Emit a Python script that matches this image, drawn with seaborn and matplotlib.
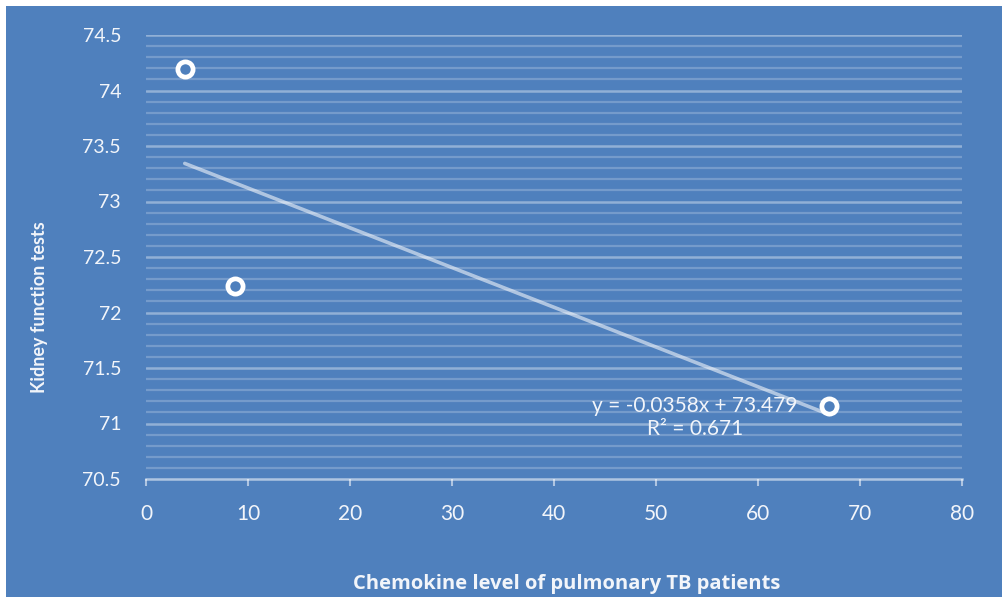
import matplotlib
matplotlib.use("Agg")
import matplotlib.pyplot as plt
from matplotlib.patches import Rectangle
from matplotlib.ticker import MultipleLocator
import numpy as np
import pandas as pd
import seaborn as sns

# Observed values
chemokine = [3.8, 8.7, 67.0]
kidney = [74.19, 72.24, 71.16]

# Linear trend (as reported)
slope = -0.0358
intercept = 73.479
r_squared = 0.671

x_ticks = [0, 10, 20, 30, 40, 50, 60, 70, 80]
y_ticks = [70.5, 71, 71.5, 72, 72.5, 73, 73.5, 74, 74.5]
y_tick_labels = ["70.5", "71", "71.5", "72", "72.5", "73", "73.5", "74", "74.5"]

x_label = "Chemokine level of pulmonary TB patients"
y_label = "Kidney function tests"

BLUE = "#4F80BD"
TEXT = "#F2F5FA"

sns.set_theme(style="white")
plt.rcParams["font.family"] = ["Lato", "DejaVu Sans"]

fig = plt.figure(figsize=(10.02, 5.97), dpi=100, facecolor="white")
fig.patches.append(Rectangle((6 / 1002, 0), 1 - 6 / 1002, 1 - 6 / 597,
                             transform=fig.transFigure, facecolor=BLUE,
                             edgecolor="none", zorder=-10))

ax = fig.add_axes([146 / 1002, 1 - 479 / 597, (962 - 146) / 1002, (479 - 35) / 597])
ax.set_facecolor(BLUE)

df = pd.DataFrame({"x": chemokine, "y": kidney})

# Trend line over the observed range
trend_x = np.array([min(chemokine), max(chemokine)])
trend = pd.DataFrame({"x": trend_x, "y": intercept + slope * trend_x})
sns.lineplot(data=trend, x="x", y="y", ax=ax, color="white", alpha=0.55,
             linewidth=2.6, zorder=3)

sns.scatterplot(data=df, x="x", y="y", ax=ax, marker="o", s=120,
                facecolor=BLUE, edgecolor="white", linewidth=3.4, zorder=5)

ax.set_xlim(0, 80)
ax.set_ylim(70.5, 74.5)
ax.set_xticks(x_ticks)
ax.set_yticks(y_ticks)
ax.set_yticklabels(y_tick_labels)
ax.yaxis.set_minor_locator(MultipleLocator(0.1))

ax.grid(False)
for v in np.arange(70.6, 74.5, 0.1):
    if abs(round(v * 2) - v * 2) > 1e-6:
        ax.axhline(v, color="white", alpha=0.22, linewidth=1.6, zorder=1)
for v in y_ticks[1:]:
    ax.axhline(v, color="white", alpha=0.38, linewidth=1.8, zorder=1)

for side in ["top", "right", "left"]:
    ax.spines[side].set_visible(False)
ax.spines["bottom"].set_color((1, 1, 1, 0.55))
ax.spines["bottom"].set_linewidth(1.8)

ax.tick_params(axis="x", which="major", bottom=True, length=5, width=1.5,
               color=(1, 1, 1, 0.55), pad=13, labelsize=15, labelcolor=TEXT)
ax.tick_params(axis="y", which="both", left=False, pad=12, labelsize=14,
               labelcolor=TEXT)
ax.set_xlabel("")
ax.set_ylabel("")

ax.text(53.8, 71.056, f"y = {slope}x + {intercept}\nR\u00b2 = {r_squared}",
        ha="center", va="center", fontsize=15, color=TEXT,
        linespacing=1.2, zorder=4)

fig.text(567 / 1002, 1 - 584 / 597, x_label, ha="center", va="center",
         fontsize=14.5, fontweight="bold", color=TEXT,
         family=["Open Sans", "DejaVu Sans"])
fig.text(40 / 1002, 1 - 307 / 597, y_label, ha="center", va="center",
         rotation=90, fontsize=13, fontweight="bold", color=TEXT)

fig.savefig("out.png", dpi=100, facecolor="white")
